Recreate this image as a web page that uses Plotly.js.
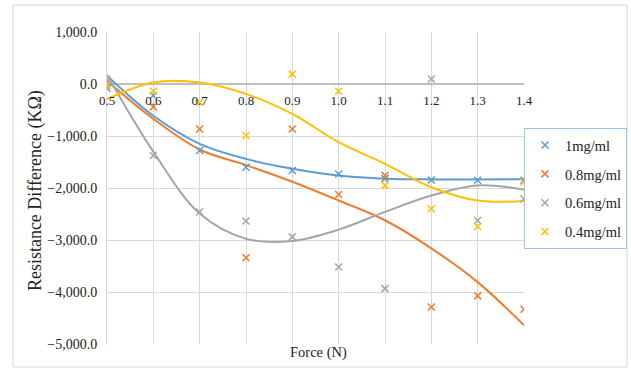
<!DOCTYPE html>
<html>
<head>
<meta charset="utf-8">
<script src="https://cdn.plot.ly/plotly-3.0.1.min.js"></script>
<style>
html,body{margin:0;padding:0;background:#fff;}
#chart{width:631px;height:368px;}
</style>
</head>
<body>
<div id="chart"></div>
<script>
// Force (N)
const force = [0.5, 0.6, 0.7, 0.8, 0.9, 1.0, 1.1, 1.2, 1.3, 1.4];
const seriesNames = ['1mg/ml', '0.8mg/ml', '0.6mg/ml', '0.4mg/ml'];
// measured points (KΩ)
const conc1 = [-80, -220, -1280, -1600, -1665, -1730, -1820, -1845, -1850, -1850];
const conc08 = [-30, -440, -865, -3340, -865, -2125, -1760, -4290, -4075, -4330];
const conc06 = [80, -1375, -2460, -2635, -2940, -3520, -3935, 95, -2625, -2210];
const conc04 = [-30, -140, -350, -990, 190, -140, -1950, -2400, -2740, -1885];
// trendline values
const trend1 = [160, -610, -1150, -1440, -1630, -1760, -1820, -1835, -1835, -1830];
const trend08 = [60, -670, -1260, -1560, -1880, -2240, -2620, -3160, -3810, -4640];
const trend06 = [180, -1300, -2490, -2975, -3020, -2800, -2460, -2145, -1950, -2035];
const trend04 = [-290, 30, 30, -190, -575, -1120, -1535, -1985, -2240, -2250];
const yTicks = [1000, 0, -1000, -2000, -3000, -4000, -5000];

const colors = ['#5b9bd5', '#ed7d31', '#a5a5a5', '#ffc000'];
const pts = [conc1, conc08, conc06, conc04];
const trends = [trend1, trend08, trend06, trend04];

const FONT = 'Liberation Serif, Times New Roman, serif';
const traces = [];
for (let i = 0; i < 4; i++) {
  traces.push({
    x: force, y: trends[i], mode: 'lines', type: 'scatter',
    line: {color: colors[i], width: 2, shape: 'spline', smoothing: 1},
    showlegend: false, hoverinfo: 'skip'
  });
}
for (let i = 0; i < 4; i++) {
  traces.push({
    x: force, y: pts[i], mode: 'markers', type: 'scatter', name: seriesNames[i],
    legendgroup: 'g' + i,
    marker: {symbol: 'x-thin', size: 7, color: colors[i], line: {color: colors[i], width: 1.5}}
  });
}

const layout = {
  width: 631, height: 368,
  margin: {l: 107, r: 107, t: 32, b: 24, autoexpand: false},
  paper_bgcolor: '#fff', plot_bgcolor: '#fff',
  font: {family: FONT, color: '#222'},
  xaxis: {
    range: [0.5, 1.4], tick0: 0.5, dtick: 0.1, tickformat: '.1f',
    showgrid: true, gridcolor: '#d9d9d9', gridwidth: 1,
    zeroline: false, showline: false, ticks: '',
    anchor: 'free', position: 5/6, automargin: false,
    tickfont: {family: FONT, size: 13, color: '#222'},
    ticklabelstandoff: 7
  },
  yaxis: {
    range: [-5000, 1000], tickvals: yTicks, tickformat: ',.1f',
    showgrid: true, gridcolor: '#d9d9d9', gridwidth: 1,
    zeroline: true, zerolinecolor: '#bfbfbf', zerolinewidth: 2,
    showline: true, linecolor: '#d9d9d9', ticks: '', automargin: false,
    tickfont: {family: FONT, size: 14, color: '#222'},
    ticklabelstandoff: 6
  },
  legend: {
    x: 1.0, y: 0.692, xanchor: 'left', yanchor: 'top',
    bordercolor: '#9dc3e6', borderwidth: 1, bgcolor: '#fff',
    font: {family: FONT, size: 14.5, color: '#222'},
    traceorder: 'grouped', tracegroupgap: 7, itemwidth: 30
  },
  annotations: [
    {text: 'Resistance Difference (KΩ)', xref: 'paper', yref: 'paper',
     x: (35 - 107) / 417, y: 0.49, textangle: -90, showarrow: false,
     xanchor: 'center', yanchor: 'middle',
     font: {family: FONT, size: 18, color: '#222'}},
    {text: 'Force (N)', xref: 'paper', yref: 'paper',
     x: (318 - 107) / 417, y: -(353 - 344) / 312, showarrow: false,
     xanchor: 'center', yanchor: 'middle',
     font: {family: FONT, size: 14.5, color: '#222'}}
  ],
  shapes: [
    {type: 'rect', xref: 'paper', yref: 'paper',
     x0: (13 - 107) / 417, x1: (627 - 107) / 417,
     y0: (344 - 367) / 312, y1: (344 - 5) / 312,
     line: {color: '#d9d9d9', width: 1}, layer: 'below'}
  ]
};

Plotly.newPlot('chart', traces, layout, {displayModeBar: false, staticPlot: true});
</script>
</body>
</html>
